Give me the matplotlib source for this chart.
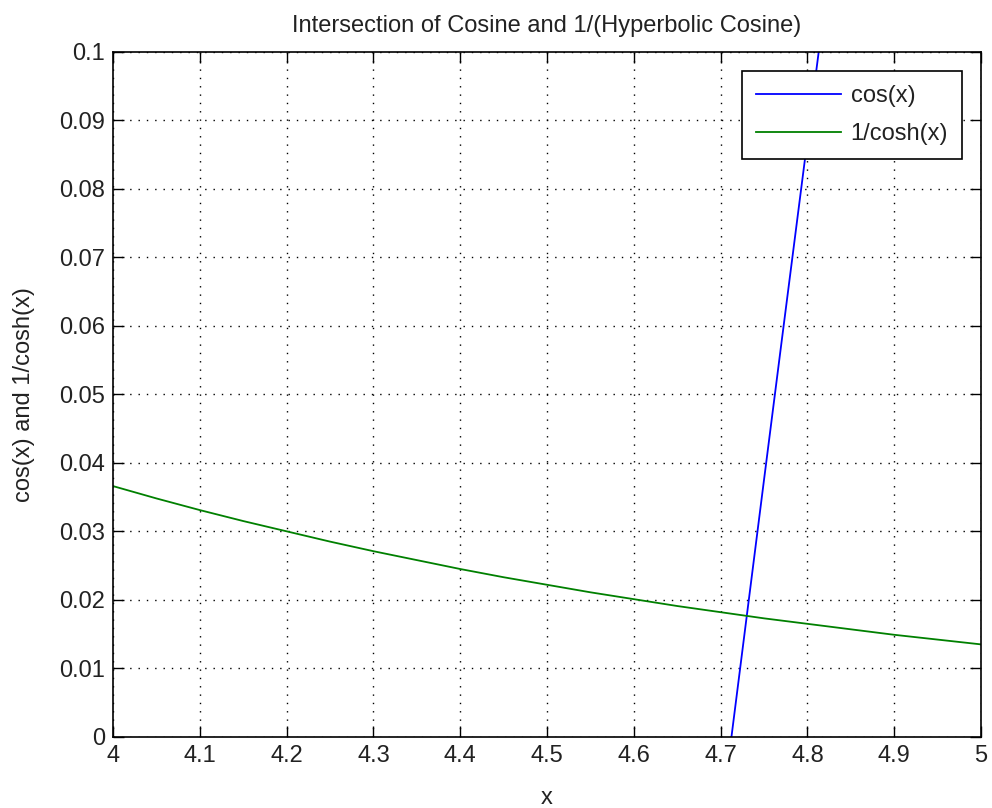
import numpy as np
import matplotlib
matplotlib.use('Agg')
import matplotlib.pyplot as plt

plt.rcParams['font.family'] = ['Liberation Sans', 'DejaVu Sans']

# values
x_cos = [4.70, 4.71, 4.73, 4.75, 4.77, 4.79, 4.81, 4.83]
y_cos = [-0.0124, -0.0024, 0.0176, 0.0376, 0.0575, 0.0773, 0.0971, 0.1168]

x_sech = [4.0, 4.05, 4.1, 4.15, 4.2, 4.25, 4.3, 4.35, 4.4, 4.45, 4.5,
          4.55, 4.6, 4.65, 4.7, 4.75, 4.8, 4.85, 4.9, 4.95, 5.0]
y_sech = [0.0366, 0.0348, 0.0331, 0.0315, 0.0300, 0.0285, 0.0271, 0.0258,
          0.0245, 0.0233, 0.0222, 0.0211, 0.0201, 0.0191, 0.0182, 0.0173,
          0.0165, 0.0157, 0.0149, 0.0142, 0.0135]

xticks = [4, 4.1, 4.2, 4.3, 4.4, 4.5, 4.6, 4.7, 4.8, 4.9, 5]
xticklabels = ['4', '4.1', '4.2', '4.3', '4.4', '4.5', '4.6', '4.7', '4.8', '4.9', '5']
yticks = [0, 0.01, 0.02, 0.03, 0.04, 0.05, 0.06, 0.07, 0.08, 0.09, 0.1]
yticklabels = ['0', '0.01', '0.02', '0.03', '0.04', '0.05', '0.06', '0.07', '0.08', '0.09', '0.1']

fig = plt.figure(figsize=(9.92, 8.08), dpi=100)
ax = fig.add_axes([0.114, 0.088, 0.875, 0.848])

ax.plot(x_cos, y_cos, color=(0, 0, 1), lw=1.3, label='cos(x)')
ax.plot(x_sech, y_sech, color=(0, 0.5, 0), lw=1.3, label='1/cosh(x)')

ax.set_xlim(4, 5)
ax.set_ylim(0, 0.1)
ax.set_xticks(xticks)
ax.set_xticklabels(xticklabels)
ax.set_yticks(yticks)
ax.set_yticklabels(yticklabels)
ax.tick_params(direction='in', length=8, width=1, top=True, right=True,
               labelsize=17, colors='black', labelcolor='#222222', pad=6)
ax.grid(True, linestyle=(0, (1, 5)), color='black', linewidth=1)
for s in ax.spines.values():
    s.set_linewidth(1.2)
    s.set_color('black')

ax.set_title('Intersection of Cosine and 1/(Hyperbolic Cosine)', fontsize=17, pad=14,
             color='#222222')
ax.set_xlabel('x', fontsize=17, labelpad=14, color='#222222')
ax.set_ylabel('cos(x) and 1/cosh(x)', fontsize=17, labelpad=17, color='#222222')

leg = ax.legend(loc='upper right', fontsize=17, fancybox=False, framealpha=1,
                edgecolor='black', handlelength=3.6, borderaxespad=0.8,
                borderpad=0.6, handletextpad=0.4, labelspacing=0.7)
leg.get_frame().set_linewidth(1.2)
for t in leg.get_texts():
    t.set_color('#222222')

fig.savefig('out.png', dpi=100)
